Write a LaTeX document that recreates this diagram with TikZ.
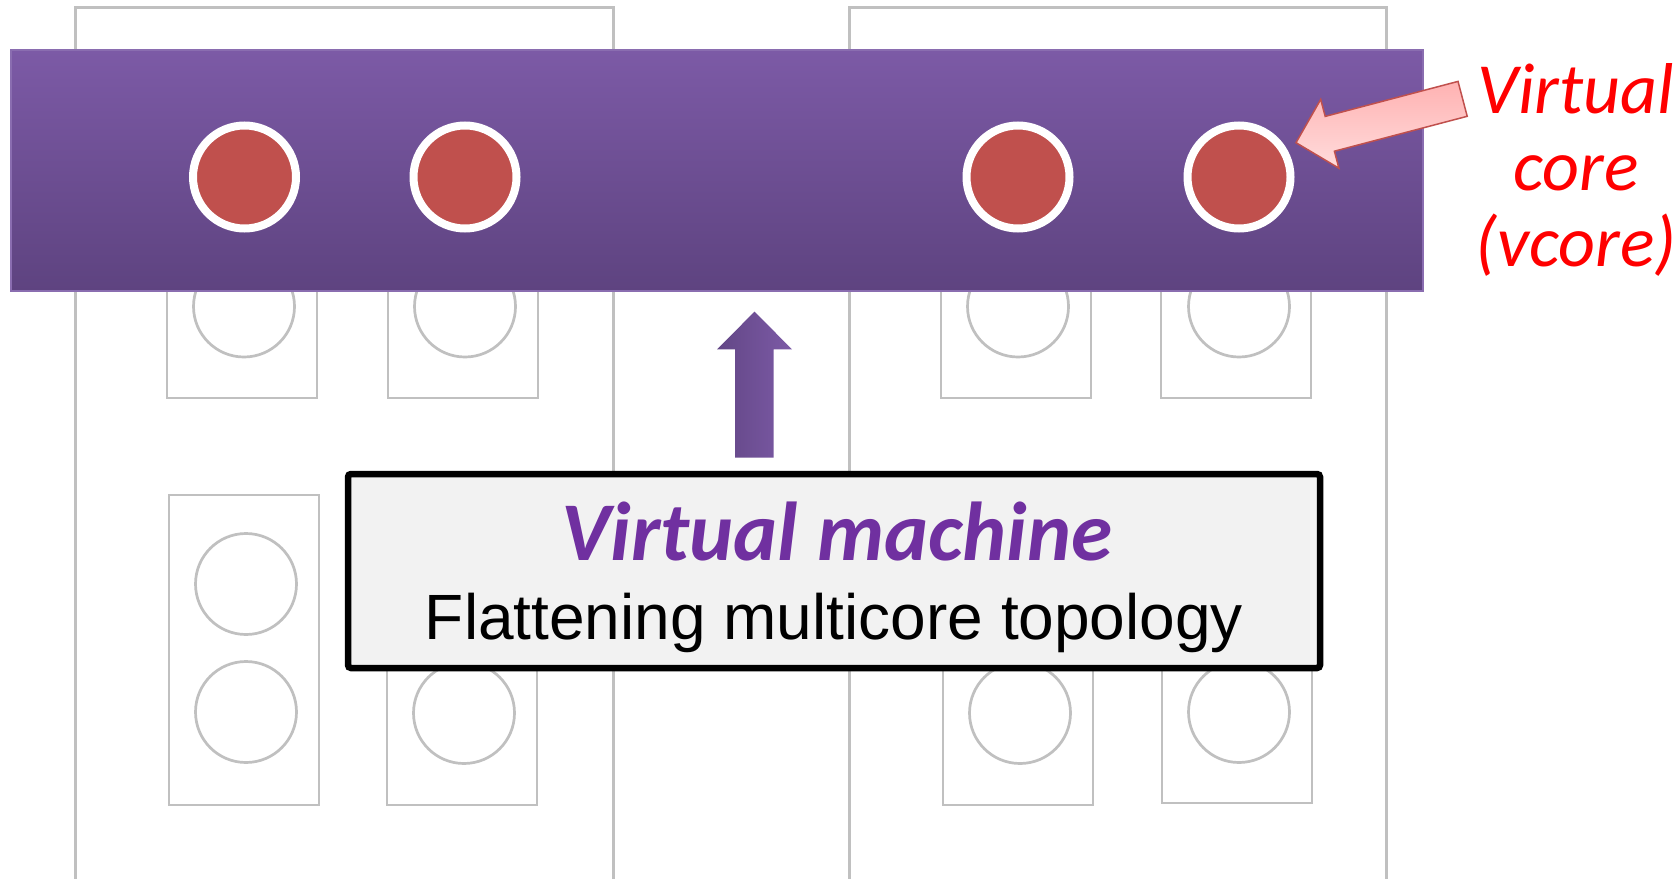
\documentclass[tikz,border=0pt]{standalone}
\usepackage{fontspec}
\setmainfont{Liberation Sans}
\newfontfamily\humanist{Carlito}

\definecolor{gridgray}{HTML}{C0C0C0}
\definecolor{vcorered}{HTML}{C0504D}
\definecolor{vmpurple}{HTML}{7030A0}
\definecolor{bartop}{HTML}{7C5AA6}
\definecolor{barbottom}{HTML}{5E4380}
\definecolor{baredge}{HTML}{8A6DB0}
\definecolor{boxfill}{HTML}{F2F2F2}
\definecolor{calloutedge}{HTML}{C0504D}
\definecolor{callouttop}{HTML}{FFB2B2}
\definecolor{calloutbottom}{HTML}{FFDCDC}

\begin{document}
\begin{tikzpicture}[x=1pt,y=-1pt,
  chipframe/.style={draw=gridgray, line width=3pt},
  corebox/.style={draw=gridgray, line width=2.7pt, fill=white},
  idlecore/.style={circle, draw=gridgray, line width=2.7pt, fill=white,
    inner sep=0pt, minimum size=101pt},
  vcore/.style={circle, draw=white, line width=8pt, fill=vcorered,
    inner sep=0pt, minimum size=103pt},
  vmbar/.style={draw=baredge, line width=1.5pt, top color=bartop, bottom color=barbottom},
  infobox/.style={draw=black, line width=6.5pt, fill=boxfill, rounded corners=3pt},
  titlefont/.style={font={\humanist\bfseries\itshape\fontsize{83.5pt}{90pt}\selectfont}, text=vmpurple},
  bodyfont/.style={font={\fontsize{64pt}{70pt}\selectfont}, text=black},
  labelfont/.style={font={\humanist\itshape\fontsize{72pt}{77pt}\selectfont}, text=red},
]
\useasboundingbox (0,0) rectangle (1680,878);
\clip (0,0) rectangle (1680,878);

% two multicore chips, running off the bottom edge
\draw[chipframe] (75,1000) -- (75,7.5) -- (613,7.5) -- (613,1000);
\draw[chipframe] (849,1000) -- (849,7.5) -- (1386,7.5) -- (1386,1000);

% upper row of physical cores
\draw[corebox] (167,200) rectangle (317,398);
\draw[corebox] (388,200) rectangle (538,398);
\draw[corebox] (941,200) rectangle (1091,398);
\draw[corebox] (1161,200) rectangle (1311,398);
\node[idlecore] (pa) at (244,306.5) {};
\node[idlecore] (pb) at (465,306.5) {};
\node[idlecore] (pc) at (1018,306.5) {};
\node[idlecore] (pd) at (1239,306.5) {};

% lower row of physical cores
\draw[corebox] (169,495) rectangle (319,805);
\draw[corebox] (387,620) rectangle (537,805);
\draw[corebox] (943,620) rectangle (1093,805);
\draw[corebox] (1162,620) rectangle (1312,803);
\node[idlecore] (qa1) at (246,584) {};
\node[idlecore] (qa2) at (246,712) {};
\node[idlecore] (qb) at (464,713) {};
\node[idlecore] (qc) at (1020,713) {};
\node[idlecore] (qd) at (1239,712) {};

% the virtual machine bar with its virtual cores
\path[vmbar] (11,50) rectangle (1423,291);
\node[vcore] (va) at (244.5,177) {};
\node[vcore] (vb) at (465,177) {};
\node[vcore] (vc) at (1018,177) {};
\node[vcore] (vd) at (1239,177) {};

% explanation box
\path[infobox] (348,474) rectangle (1320,668);
\node[titlefont, anchor=base] (vmtitle) at (837,560) {Virtual machine};
\node[bodyfont, anchor=base] (vmsub) at (834,639) {Flattening multicore topology};

% block arrow from the box up to the bar
\shade[left color=barbottom!85!bartop, right color=bartop]
  (735,457.7) -- (735,349.3) -- (717,349.3) -- (754.5,311.7)
  -- (792,349.3) -- (773.7,349.3) -- (773.7,457.7) -- cycle;

% callout arrow pointing at a virtual core
\path[draw=calloutedge, line width=1.5pt, top color=callouttop, bottom color=calloutbottom]
  (1458,81.4) -- (1325.2,116.4) -- (1320.7,99.4) -- (1296,142.7)
  -- (1338.9,168.2) -- (1334.4,151.2) -- (1467.2,116.3) -- cycle;

\node[labelfont, anchor=base] (lbl1) at (1576,113.3) {Virtual};
\node[labelfont, anchor=base] (lbl2) at (1576,190) {core};
\node[labelfont, anchor=base] (lbl3) at (1576,266.7) {(vcore)};
\end{tikzpicture}
\end{document}
